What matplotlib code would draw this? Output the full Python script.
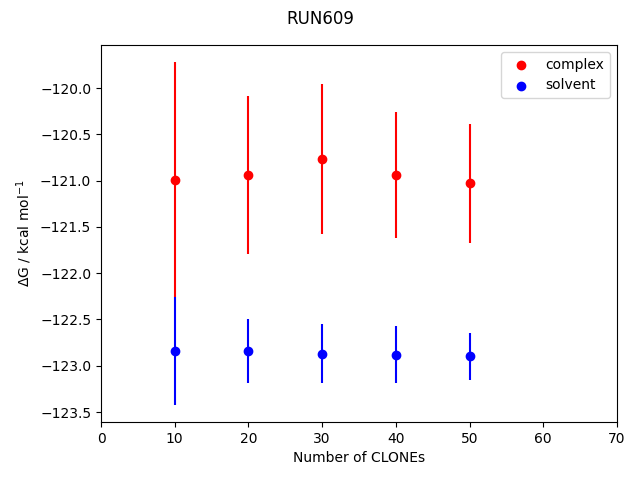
import matplotlib
matplotlib.use("Agg")
import matplotlib.pyplot as plt

clones = [10, 20, 30, 40, 50]
complex_dg = [-120.99, -120.94, -120.77, -120.94, -121.03]
complex_err = [1.27, 0.85, 0.81, 0.68, 0.64]
solvent_dg = [-122.84, -122.84, -122.87, -122.88, -122.90]
solvent_err = [0.58, 0.345, 0.32, 0.31, 0.25]

fig, ax = plt.subplots(figsize=(6.4, 4.8), dpi=100)
fig.suptitle("RUN609")
ax.scatter(clones, complex_dg, color="red", label="complex")
ax.errorbar(clones, complex_dg, yerr=complex_err, fmt="none", ecolor="red")
ax.scatter(clones, solvent_dg, color="blue", label="solvent")
ax.errorbar(clones, solvent_dg, yerr=solvent_err, fmt="none", ecolor="blue")
ax.set_xlim(0, 70)
ax.set_ylim(-123.608, -119.535)
ax.set_xlabel("Number of CLONEs")
ax.set_ylabel(r"$\Delta$G / kcal mol$^{-1}$")
ax.legend(loc="upper right")
fig.subplots_adjust(left=101/640, right=617/640, top=1-45/480, bottom=1-422/480)
fig.savefig("out.png")
